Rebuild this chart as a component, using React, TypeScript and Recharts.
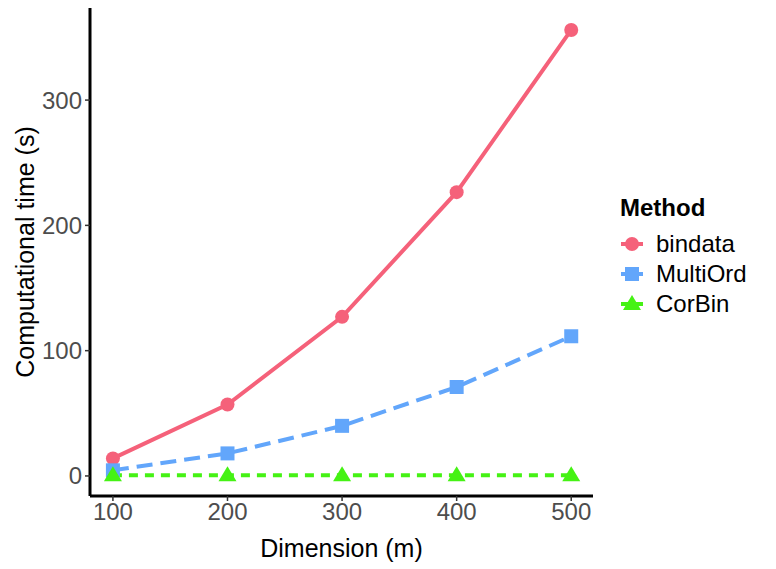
import React from "react";
import { LineChart, Line, XAxis, YAxis, Legend, Label } from "recharts";

const dimensions = [100, 200, 300, 400, 500];
const bindata = [14, 57, 127, 226.5, 356];
const multiOrd = [4.5, 18, 40, 71, 111.5];
const corBin = [0.5, 0.5, 0.5, 0.5, 0.5];
const xTicks = [100, 200, 300, 400, 500];
const yTicks = [0, 100, 200, 300];

const FONT = "'Liberation Sans', Arial, Helvetica, sans-serif";
const TICK_COLOR = "#4d4d4d";

const series = [
    { key: "bindata", name: "bindata", color: "#f5617a", dash: undefined as string | undefined, shape: "circle" },
    { key: "MultiOrd", name: "MultiOrd", color: "#62a6fb", dash: "16 8", shape: "square" },
    { key: "CorBin", name: "CorBin", color: "#45f214", dash: "9 7", shape: "triangle" },
];

const chartData = dimensions.map((d, i) => ({
    dim: d,
    bindata: bindata[i],
    MultiOrd: multiOrd[i],
    CorBin: corBin[i],
}));

function Marker({ cx, cy, shape, color }: { cx: number; cy: number; shape: string; color: string }) {
    if (shape === "circle") return <circle cx={cx} cy={cy} r={7} fill={color} />;
    if (shape === "square") return <rect x={cx - 7} y={cy - 7} width={14} height={14} fill={color} />;
    return <polygon points={`${cx},${cy - 9} ${cx + 9},${cy + 6} ${cx - 9},${cy + 6}`} fill={color} />;
}

function LegendBox() {
    return (
        <div style={{ fontFamily: FONT, paddingLeft: 27, color: "#000" }}>
            <div style={{ fontWeight: "bold", fontSize: 24, lineHeight: "28px", marginBottom: 7 }}>Method</div>
            {series.map((s) => (
                <div key={s.key} style={{ display: "flex", alignItems: "center", height: 30 }}>
                    <svg width={24} height={24} style={{ marginRight: 12 }}>
                        <line x1={1} y1={12} x2={23} y2={12} stroke={s.color} strokeWidth={4} />
                        <Marker cx={12} cy={12} shape={s.shape} color={s.color} />
                    </svg>
                    <span style={{ fontSize: 24 }}>{s.name}</span>
                </div>
            ))}
        </div>
    );
}

export default function App() {
    return (
        <div style={{ position: "absolute", left: 0, top: 0, background: "#fff" }}>
            <LineChart width={776} height={569} data={chartData} margin={{ top: 8, right: 0, bottom: 0, left: 0 }}>
                <XAxis
                    dataKey="dim"
                    type="number"
                    domain={[80, 519]}
                    ticks={xTicks}
                    height={73}
                    axisLine={{ stroke: "#000", strokeWidth: 3 }}
                    tickLine={{ stroke: "#333", strokeWidth: 1.5 }}
                    tickSize={5}
                    tickMargin={2}
                    tick={{ fill: TICK_COLOR, fontSize: 24, fontFamily: FONT }}
                >
                    <Label
                        value="Dimension (m)"
                        position="insideBottom"
                        offset={12}
                        style={{ fill: "#000", fontSize: 25, fontFamily: FONT }}
                    />
                </XAxis>
                <YAxis
                    type="number"
                    domain={[-16, 373.5]}
                    ticks={yTicks}
                    width={90}
                    axisLine={{ stroke: "#000", strokeWidth: 3 }}
                    tickLine={{ stroke: "#333", strokeWidth: 1.5 }}
                    tickSize={5}
                    tickMargin={3}
                    tick={{ fill: TICK_COLOR, fontSize: 24, fontFamily: FONT }}
                >
                    <Label
                        content={({ viewBox }: any) => (
                            <text
                                x={25}
                                y={viewBox.y + viewBox.height / 2}
                                transform={`rotate(-90, 25, ${viewBox.y + viewBox.height / 2})`}
                                textAnchor="middle"
                                dominantBaseline="central"
                                fill="#000"
                                fontSize={25}
                                fontFamily={FONT}
                            >
                                Computational time (s)
                            </text>
                        )}
                    />
                </YAxis>
                <Legend
                    layout="vertical"
                    align="right"
                    verticalAlign="top"
                    wrapperStyle={{ top: 194, width: 183 }}
                    content={() => <LegendBox />}
                />
                {series.map((s) => (
                    <Line
                        key={s.key}
                        dataKey={s.key}
                        name={s.name}
                        type="linear"
                        stroke={s.color}
                        strokeWidth={4}
                        strokeDasharray={s.dash}
                        dot={(p: any) => <Marker key={`${s.key}-${p.index}`} cx={p.cx} cy={p.cy} shape={s.shape} color={s.color} />}
                        activeDot={false}
                        isAnimationActive={false}
                    />
                ))}
            </LineChart>
        </div>
    );
}
